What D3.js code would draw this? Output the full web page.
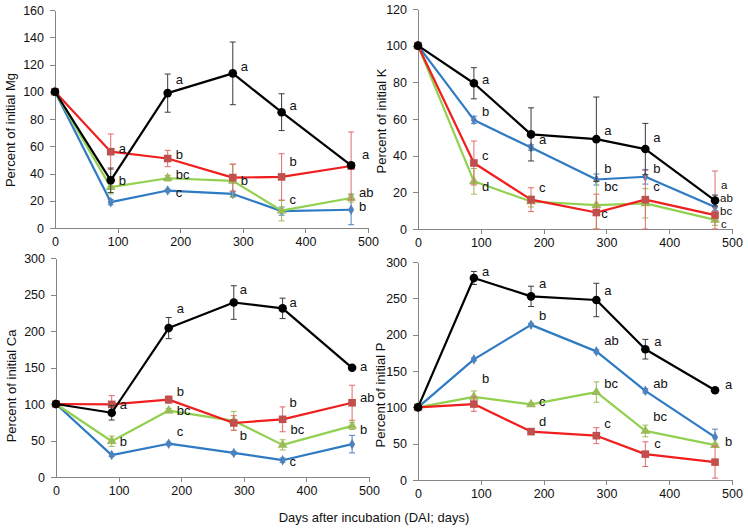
<!DOCTYPE html>
<html><head><meta charset="utf-8">
<script src="https://cdn.jsdelivr.net/npm/d3@7"></script>
<style>
body{margin:0;background:#fff;}
svg{display:block;font-family:"Liberation Sans",Arial,sans-serif;}
</style></head>
<body><svg id="c" width="748" height="530"></svg>
<script>
const days = [0, 89, 180, 284, 362, 473];
const xTicks = [0, 100, 200, 300, 400, 500];

// Mg
const mgBlack = [100, 35, 99, 113.5, 85, 46];
const mgBlackErr = [0, 9, 14, 23, 13.5, 2];
const mgRed = [100, 56, 51, 37, 37.5, 45.5];
const mgRedErr = [0, 13, 6, 10, 17, 25];
const mgGreen = [100, 30, 36.5, 34.6, 12.7, 22];
const mgGreenErr = [0, 5, 2, 12, 7.5, 3];
const mgBlue = [100, 19, 27.5, 25, 12.4, 13.4];
const mgBlueErr = [0, 2, 1, 2, 3, 11];
const mgTicks = [0, 20, 40, 60, 80, 100, 120, 140, 160];
const mgLetters = [[89,58,"a"],[89,34.6,"b"],[180,109,"a"],[180,54,"b"],[180,39,"bc"],[180,26,"c"],
  [284,118.6,"a"],[284,34.6,"b"],[362,90,"a"],[362,49,"b"],[362,21,"c"],[473,54,"a",11],[473,26,"ab"],[473,16,"b"]];

// K
const kBlack = [100, 79.5, 51.6, 49, 43.6, 15.5];
const kBlackErr = [0, 8.5, 14.5, 23, 14, 3];
const kRed = [100, 36, 16, 9, 16, 7.6];
const kRedErr = [0, 12, 6.5, 10, 16, 24];
const kGreen = [100, 26, 15, 13, 14, 5];
const kGreenErr = [0, 7, 3, 13, 8, 3];
const kBlue = [100, 59.5, 44.4, 27, 28.5, 12];
const kBlueErr = [0, 2, 1.5, 3, 4, 2];
const kTicks = [0, 20, 40, 60, 80, 100, 120];
const kLetters = [[89,81.6,"a"],[89,64,"b"],[89,40,"c"],[89,23,"d"],[180,49,"a"],[180,22.5,"c"],
  [284,54,"a"],[284,33,"b"],[284,23,"bc"],[284,8.5,"c",5],[362,50,"a"],[362,33,"b"],[362,23,"c"],
  [473,24,"a",6,11.5],[473,17,"ab",5,11.5],[473,10,"bc",5,11.5],[473,3,"c",6,11.5]];

// Ca
const caBlack = [100, 88, 204, 239, 231, 149.6];
const caBlackErr = [0, 10, 14.5, 23, 14, 2];
const caRed = [100, 99.5, 106, 74, 79, 101.7];
const caRedErr = [0, 12, 5, 10, 17, 24];
const caGreen = [100, 49, 91, 77, 44, 70];
const caGreenErr = [0, 7, 3, 13, 7, 5];
const caBlue = [100, 30, 45.6, 33, 23, 45];
const caBlueErr = [0, 2, 2, 2, 3, 12];
const caTicks = [0, 50, 100, 150, 200, 250, 300];
const caLetters = [[89,99.5,"a"],[89,48,"b"],[180,231,"a"],[180,117,"b"],[180,91,"bc"],[180,62,"c"],
  [284,257,"a",6],[284,57.5,"b",6],[362,239,"a",7],[362,102,"b",7],[362,65,"bc"],[362,21,"c",7],
  [473,152,"a"],[473,108.6,"ab"],[473,65,"b"]];

// P
const pBlack = [100, 278, 252.7, 247.7, 180, 123.6];
const pBlackErr = [0, 9, 14, 23, 13.5, 2];
const pRed = [100, 104.5, 66.6, 61, 35.6, 24.6];
const pRedErr = [0, 10, 4, 11, 17, 22];
const pGreen = [100, 114.5, 104, 121, 67.5, 48];
const pGreenErr = [0, 8, 2, 14, 8, 2];
const pBlue = [100, 166, 213.5, 177, 122.7, 59];
const pBlueErr = [0, 2, 2, 2, 3, 11];
const pTicks = [0, 50, 100, 150, 200, 250, 300];
const pLetters = [[89,287,"a"],[89,139.6,"b"],[180,271,"a"],[180,226,"b"],[180,107.7,"c"],[180,80,"d"],
  [284,261,"a"],[284,192,"ab"],[284,133,"bc"],[284,78,"c"],[362,190.7,"a",9],[362,133,"ab"],[362,87,"bc"],[362,50.6,"c",9],
  [473,131,"a",10],[473,53,"b",10]];

const yTitles = ["Percent of initial Mg", "Percent of initial K", "Percent of initial Ca", "Percent of initial P"];
const xTitle = "Days after incubation (DAI; days)";

const styles = {
  black: {line: "#000000", err: "#3a3a3a", fill: "#000000", sym: "circle"},
  red:   {line: "#f01e1e", err: "#e06a6a", fill: "#c0504d", sym: "square"},
  green: {line: "#92d050", err: "#9bbb59", fill: "#9bbb59", sym: "triangle"},
  blue:  {line: "#2e7bc4", err: "#4f81bd", fill: "#4f81bd", sym: "diamond"}
};

const panels = [
  {x:[55,368], y:[228,10], max:160, ticks:mgTicks, title:yTitles[0], tx:10, ty:130, letters:mgLetters,
   series:[["blue",mgBlue,mgBlueErr],["green",mgGreen,mgGreenErr],["red",mgRed,mgRedErr],["black",mgBlack,mgBlackErr]]},
  {x:[418,732], y:[229,9], max:120, ticks:kTicks, title:yTitles[1], tx:381, ty:121, letters:kLetters,
   series:[["blue",kBlue,kBlueErr],["green",kGreen,kGreenErr],["red",kRed,kRedErr],["black",kBlack,kBlackErr]]},
  {x:[56,369], y:[477,258], max:300, ticks:caTicks, title:yTitles[2], tx:11, ty:386, letters:caLetters,
   series:[["blue",caBlue,caBlueErr],["green",caGreen,caGreenErr],["red",caRed,caRedErr],["black",caBlack,caBlackErr]]},
  {x:[418,732], y:[480,262], max:300, ticks:pTicks, title:yTitles[3], tx:380, ty:395, letters:pLetters,
   series:[["blue",pBlue,pBlueErr],["green",pGreen,pGreenErr],["red",pRed,pRedErr],["black",pBlack,pBlackErr]]}
];

const svg = d3.select("#c");
const axisColor = "#868686";

panels.forEach(p => {
  const xs = d3.scaleLinear().domain([0, 500]).range(p.x);
  const ys = d3.scaleLinear().domain([0, p.max]).range(p.y);
  const g = svg.append("g");

  const ya = g.append("g").attr("transform", `translate(${p.x[0]},0)`)
    .call(d3.axisLeft(ys).tickValues(p.ticks).tickSize(5).tickSizeOuter(0).tickPadding(6));
  const xa = g.append("g").attr("transform", `translate(0,${p.y[0]})`)
    .call(d3.axisBottom(xs).tickValues(xTicks).tickSize(5).tickSizeOuter(0).tickPadding(4));
  [ya, xa].forEach(a => {
    a.selectAll("path,line").attr("stroke", axisColor).attr("shape-rendering", "crispEdges");
    a.selectAll("text").attr("font-size", 12.5).attr("fill", "#111").attr("font-family", '"Liberation Sans",Arial,sans-serif');
  });
  xa.selectAll(".tick").filter(d => d === 0).select("line").remove();

  g.append("text").attr("transform", `translate(${p.tx},${p.ty}) rotate(-90)`)
    .attr("text-anchor", "middle").attr("dominant-baseline", "central")
    .attr("font-size", 13).attr("fill", "#111").text(p.title);

  p.series.forEach(([key, vals, errs]) => {
    const st = styles[key];
    const pts = days.map((d, i) => ({d, v: vals[i], e: errs[i]}));
    const eg = g.append("g").attr("stroke", st.err).attr("stroke-width", 1).attr("fill", "none");
    pts.filter(q => q.e > 0).forEach(q => {
      const cx = xs(q.d), y1 = ys(Math.min(p.max, q.v + q.e)), y0 = ys(Math.max(0, q.v - q.e));
      eg.append("line").attr("x1", cx).attr("x2", cx).attr("y1", y1).attr("y2", y0);
      eg.append("line").attr("x1", cx - 3).attr("x2", cx + 3).attr("y1", y1).attr("y2", y1);
      eg.append("line").attr("x1", cx - 3).attr("x2", cx + 3).attr("y1", y0).attr("y2", y0);
    });
    g.append("path").datum(pts)
      .attr("d", d3.line().x(q => xs(q.d)).y(q => ys(q.v)))
      .attr("fill", "none").attr("stroke", st.line).attr("stroke-width", 2.2).attr("stroke-linejoin", "round");
    const symType = {circle: d3.symbolCircle, square: d3.symbolSquare, triangle: d3.symbolTriangle, diamond: d3.symbolDiamond}[st.sym];
    const symSize = {circle: 58, square: 58, triangle: 42, diamond: 32}[st.sym];
    g.selectAll(null).data(pts).enter().append("path")
      .attr("transform", q => `translate(${xs(q.d)},${ys(q.v)})`)
      .attr("d", d3.symbol().type(symType).size(symSize))
      .attr("fill", st.fill);
  });

  g.selectAll(null).data(p.letters).enter().append("text")
    .attr("x", l => xs(l[0]) + (l[3] !== undefined ? l[3] : 8))
    .attr("y", l => ys(l[1]))
    .attr("dominant-baseline", "central")
    .attr("font-size", l => l[4] !== undefined ? l[4] : 13).attr("fill", "#111")
    .text(l => l[2]);
});

svg.append("text").attr("x", 374).attr("y", 517).attr("text-anchor", "middle")
  .attr("dominant-baseline", "central").attr("font-size", 13).attr("fill", "#111").text(xTitle);
</script>
</body></html>
